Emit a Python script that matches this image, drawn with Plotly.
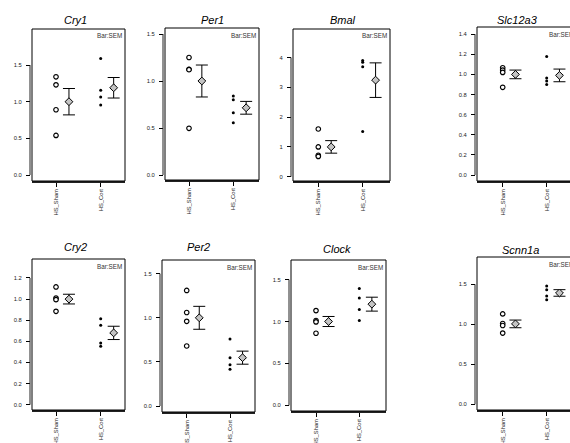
import plotly.graph_objects as go

# ---------------- data ----------------
genes = ["Cry1", "Per1", "Bmal", "Slc12a3", "Cry2", "Per2", "Clock", "Scnn1a"]
groups = ["HS_Sham", "HS_Cort"]

sham_values = [
    [1.34, 1.23, 0.89, 0.54],
    [1.25, 1.125, 1.12, 0.497],
    [1.60, 1.00, 0.72, 0.68],
    [1.066, 1.043, 1.02, 0.872],
    [1.115, 1.01, 0.995, 0.884],
    [1.31, 1.06, 0.96, 0.68],
    [1.13, 1.012, 0.995, 0.86],
    [1.13, 1.01, 0.985, 0.89],
]
cort_values = [
    [1.59, 1.155, 1.064, 0.955],
    [0.84, 0.80, 0.663, 0.556],
    [3.90, 3.84, 3.69, 1.52],
    [1.177, 0.964, 0.934, 0.90],
    [0.815, 0.752, 0.584, 0.553],
    [0.759, 0.548, 0.468, 0.416],
    [1.393, 1.281, 1.142, 1.011],
    [1.479, 1.433, 1.354, 1.308],
]
sham_mean = [1.00, 1.00, 1.00, 1.00, 1.00, 1.00, 1.00, 1.005]
sham_sem = [0.18, 0.17, 0.21, 0.043, 0.046, 0.13, 0.06, 0.048]
cort_mean = [1.19, 0.715, 3.24, 0.99, 0.68, 0.548, 1.207, 1.392]
cort_sem = [0.14, 0.068, 0.58, 0.063, 0.063, 0.074, 0.083, 0.041]

y_tick_values = [
    [0.0, 0.5, 1.0, 1.5],
    [0.0, 0.5, 1.0, 1.5],
    [0, 1, 2, 3, 4],
    [0.0, 0.2, 0.4, 0.6, 0.8, 1.0, 1.2, 1.4],
    [0.0, 0.2, 0.4, 0.6, 0.8, 1.0, 1.2],
    [0.0, 0.5, 1.0, 1.5],
    [0.0, 0.5, 1.0, 1.5],
    [0.0, 0.5, 1.0, 1.5],
]
y_tick_labels = [
    ["0.0", "0.5", "1.0", "1.5"],
    ["0.0", "0.5", "1.0", "1.5"],
    ["0", "1", "2", "3", "4"],
    ["0.0", "0.2", "0.4", "0.6", "0.8", "1.0", "1.2", "1.4"],
    ["0.0", "0.2", "0.4", "0.6", "0.8", "1.0", "1.2"],
    ["0.0", "0.5", "1.0", "1.5"],
    ["0.0", "0.5", "1.0", "1.5"],
    ["0.0", "0.5", "1.0", "1.5"],
]

# ---------------- layout (pixels) ----------------
W, H = 570, 443
# box left, right, top, bottom
boxes = [
    (32, 125, 29, 181), (165, 259, 28, 180), (293, 390, 29, 181), (477, 577, 27, 181),
    (32, 125, 259, 410), (162, 255, 260, 412), (291, 386, 260, 411), (477, 577, 257, 410),
]
# pixel x of first and second category
cat_px = [
    (56, 100.7), (189, 233.3), (318.3, 362.7), (502.7, 546.7),
    (56, 100.7), (186.7, 230), (316, 359.3), (502.7, 546.7),
]
# pixel y of value 0 and pixels per unit
y_scale = [
    (175, 73.3), (175, 94), (176.7, 29.8), (175, 100.6),
    (404.7, 105.6), (406, 88.2), (405.3, 83.8), (404.3, 80),
]
title_pos = [
    (75, 20), (212, 20), (343, 20), (517, 19.5),
    (75, 247), (198, 246.5), (337, 249), (520, 250),
]
mean_offset = 0.29

FONT = "Liberation Sans, Arial, sans-serif"
fig = go.Figure()
shapes = []
annotations = []
layout_axes = {}

for i, gene in enumerate(genes):
    k = i + 1
    xa = "x" if k == 1 else f"x{k}"
    ya = "y" if k == 1 else f"y{k}"
    L, R, T, B = boxes[i]
    c0, c1 = cat_px[i]
    unit = c1 - c0
    z, py = y_scale[i]
    Rd = min(R, W)
    xr = [(L - c0) / unit, (Rd - c0) / unit]
    yr = [(z - B) / py, (z - T) / py]

    # individual points
    fig.add_trace(go.Scatter(
        x=[0] * len(sham_values[i]), y=sham_values[i], mode="markers",
        marker=dict(symbol="circle", size=4.5, color="white",
                    line=dict(color="black", width=1.2)),
        xaxis=xa, yaxis=ya, showlegend=False, hoverinfo="y", cliponaxis=False))
    fig.add_trace(go.Scatter(
        x=[1] * len(cort_values[i]), y=cort_values[i], mode="markers",
        marker=dict(symbol="circle", size=3, color="black", line=dict(width=0)),
        xaxis=xa, yaxis=ya, showlegend=False, hoverinfo="y", cliponaxis=False))
    # mean +- SEM
    fig.add_trace(go.Scatter(
        x=[0 + mean_offset, 1 + mean_offset], y=[sham_mean[i], cort_mean[i]],
        mode="markers",
        marker=dict(symbol="diamond", size=6, color="#c4c4c4",
                    line=dict(color="black", width=1)),
        error_y=dict(type="data", array=[sham_sem[i], cort_sem[i]],
                     color="black", thickness=1, width=6),
        xaxis=xa, yaxis=ya, showlegend=False, hoverinfo="y", cliponaxis=False))

    ax_key = "xaxis" if k == 1 else f"xaxis{k}"
    ay_key = "yaxis" if k == 1 else f"yaxis{k}"
    layout_axes[ax_key] = dict(
        domain=[L / W, Rd / W], range=xr, anchor=ya, automargin=False,
        tickvals=[0, 1], ticktext=groups, tickangle=-90,
        ticks="outside", ticklen=4, tickcolor="black", tickwidth=1,
        showline=True, linecolor="#222", linewidth=1.5,
        showgrid=False, zeroline=False, fixedrange=True,
        tickfont=dict(family=FONT, size=5.8, color="#222"),
    )
    ypos = (L - 2) / W
    layout_axes[ay_key] = dict(
        domain=[1 - B / H, 1 - T / H], range=yr, anchor="free", position=ypos,
        automargin=False,
        tickvals=y_tick_values[i], ticktext=y_tick_labels[i],
        ticks="outside", ticklen=4, tickcolor="black", tickwidth=1,
        showline=False, showgrid=False, zeroline=False, fixedrange=True,
        tickfont=dict(family=FONT, size=5.8, color="#222"),
        ticklabelstandoff=3,
    )
    # box
    shapes.append(dict(type="rect", xref="paper", yref="paper",
                       x0=L / W, x1=R / W, y0=1 - B / H, y1=1 - T / H,
                       line=dict(color="black", width=1), fillcolor="rgba(0,0,0,0)",
                       layer="above"))
    # y axis line spanning tick range
    shapes.append(dict(type="line", xref="paper", yref=ya,
                       x0=ypos, x1=ypos, y0=y_tick_values[i][0], y1=y_tick_values[i][-1],
                       line=dict(color="#222", width=1)))
    # title
    tx, ty = title_pos[i]
    annotations.append(dict(text=f"<i>{gene}</i>", xref="paper", yref="paper",
                            x=tx / W, y=1 - ty / H, xanchor="center", yanchor="middle",
                            showarrow=False, font=dict(family=FONT, size=11, color="black")))
    # Bar:SEM
    annotations.append(dict(text="Bar:SEM", xref="paper", yref="paper",
                            x=(R - 1.5) / W, y=1 - (T + 1.5) / H,
                            xanchor="right", yanchor="top", showarrow=False,
                            font=dict(family=FONT, size=6.3, color="#333")))

fig.update_layout(
    template="none",
    width=W, height=H, margin=dict(l=0, r=0, t=0, b=0, pad=0),
    paper_bgcolor="white", plot_bgcolor="white",
    shapes=shapes, annotations=annotations, showlegend=False,
    **layout_axes,
)
fig.write_html("out.html", config={"displayModeBar": False},
               post_script="document.body.style.margin='0';document.body.style.overflow='hidden';")
